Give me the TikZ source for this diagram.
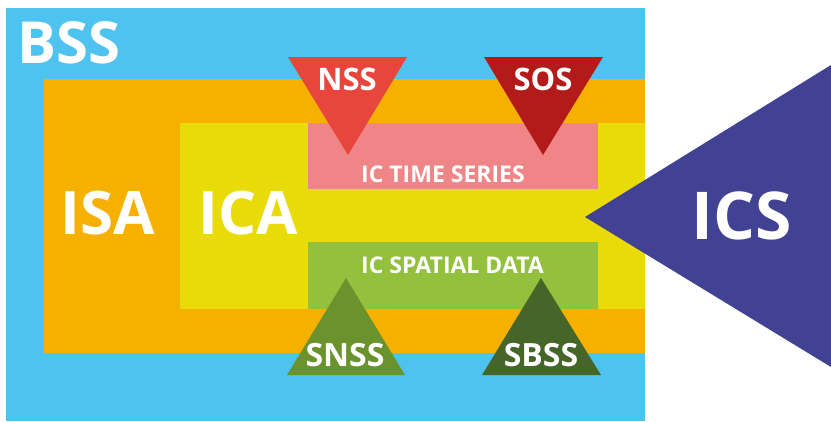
\documentclass[tikz,border=0pt]{standalone}
\usepackage{fontspec}
\setmainfont{Open Sans}[BoldFont={* Bold}]
\definecolor{bssblue}{RGB}{79,195,240}
\definecolor{isaorange}{RGB}{246,176,0}
\definecolor{icayellow}{RGB}{233,219,7}
\definecolor{tspink}{RGB}{239,133,135}
\definecolor{spgreen}{RGB}{147,193,61}
\definecolor{nssred}{RGB}{232,69,60}
\definecolor{sosred}{RGB}{179,27,27}
\definecolor{snssgreen}{RGB}{106,146,45}
\definecolor{sbssgreen}{RGB}{70,101,40}
\definecolor{icspurple}{RGB}{65,66,148}
\tikzset{
  lbl/.style={text=white, font=\bfseries, inner sep=0pt, anchor=base},
}
\begin{document}
\begin{tikzpicture}[x=1pt,y=-1pt]
\useasboundingbox (0,0) rectangle (831,421);
% regions
\fill[bssblue] (6,8) rectangle (645,421);
\fill[isaorange] (44,79) rectangle (645,353);
\fill[icayellow] (180,123) rectangle (645,309);
\fill[tspink] (308,123) rectangle (598,189);
\fill[spgreen] (308,242) rectangle (598,309);
% triangles
\fill[nssred] (288,57) -- (407,57) -- (348,155) -- cycle;
\fill[sosred] (484,57) -- (603,57) -- (543,155) -- cycle;
\fill[snssgreen] (346,278) -- (405,375) -- (287,375) -- cycle;
\fill[sbssgreen] (541,278) -- (601,375) -- (482,375) -- cycle;
\fill[icspurple] (585,217) -- (831,65) -- (831,367) -- cycle;
% labels
\node[lbl, font=\bfseries\fontsize{58}{58}\selectfont, anchor=base west] (bss) at (17,63) {BSS};
\node[lbl, font=\bfseries\fontsize{60}{60}\selectfont] (isa) at (108,234) {ISA};
\node[lbl, font=\bfseries\fontsize{60}{60}\selectfont] (ica) at (248,234) {ICA};
\node[lbl, font=\bfseries\fontsize{66}{66}\selectfont] (ics) at (742,239) {ICS};
\node[lbl, font=\bfseries\fontsize{31}{31}\selectfont] (nss) at (347,90) {NSS};
\node[lbl, font=\bfseries\fontsize{31}{31}\selectfont] (sos) at (543,90) {SOS};
\node[lbl, font=\bfseries\fontsize{23}{23}\selectfont, anchor=base west] (ts) at (361,182) {IC TIME SERIES};
\node[lbl, font=\bfseries\fontsize{23}{23}\selectfont, anchor=base west] (sp) at (361,273) {IC SPATIAL DATA};
\node[lbl, font=\bfseries\fontsize{32}{32}\selectfont] (snss) at (345,366) {SNSS};
\node[lbl, font=\bfseries\fontsize{32}{32}\selectfont] (sbss) at (541,366) {SBSS};
\end{tikzpicture}
\end{document}
